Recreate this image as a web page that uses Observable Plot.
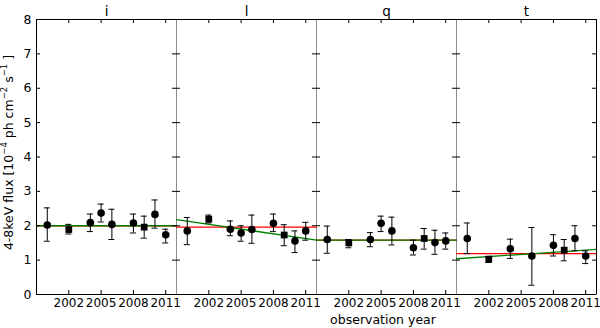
<!DOCTYPE html>
<html><head><meta charset="utf-8">
<script src="https://cdn.jsdelivr.net/npm/d3@7"></script>
<script src="https://cdn.jsdelivr.net/npm/@observablehq/plot@0.6"></script>
<style>body{margin:0;background:#fff} svg{font-family:"DejaVu Sans",sans-serif}</style>
</head><body><div id="chart"></div>
<script>
// Panels (sources) and observation years
const panels = ["i", "l", "q", "t"];
const years = [2000, 2002, 2004, 2005, 2006, 2008, 2009, 2010, 2011];
const instrument = ["circle", "square", "circle", "circle", "circle", "circle", "square", "circle", "circle"];
const xTicks = [2002, 2005, 2008, 2011];
const yTicks = [0, 1, 2, 3, 4, 5, 6, 7, 8];
const xDomain = [1999, 2012];
const yDomain = [0, 8];

// 4-8 keV flux per panel (null = no observation)
const fluxI = [2.02, 1.89, 2.09, 2.37, 2.04, 2.08, 1.96, 2.33, 1.74];
const hiI   = [2.52, 2.04, 2.34, 2.63, 2.48, 2.34, 2.28, 2.75, 1.90];
const loI   = [1.55, 1.76, 1.83, 2.11, 1.60, 1.79, 1.64, 1.93, 1.50];

const fluxL = [1.85, 2.19, 1.90, 1.79, 1.89, 2.07, 1.73, 1.56, 1.85];
const hiL   = [2.24, 2.31, 2.14, 2.00, 2.31, 2.34, 2.03, 1.85, 2.10];
const loL   = [1.45, 2.08, 1.71, 1.55, 1.49, 1.83, 1.42, 1.22, 1.58];

const fluxQ = [1.60, 1.50, 1.60, 2.07, 1.85, 1.36, 1.63, 1.51, 1.56];
const hiQ   = [1.99, 1.60, 1.80, 2.28, 2.25, 1.58, 1.92, 1.87, 1.79];
const loQ   = [1.20, 1.36, 1.39, 1.83, 1.44, 1.15, 1.32, 1.17, 1.32];

const fluxT = [1.63, 1.03, 1.33, null, 1.12, 1.43, 1.29, 1.63, 1.12];
const hiT   = [2.08, 1.10, 1.61, null, 1.95, 1.74, 1.60, 2.00, 1.27];
const loT   = [1.19, 0.93, 1.05, null, 0.27, 1.12, 0.98, 1.27, 0.90];

// Constant (mean) level and linear-fit endpoints per panel
const meanLevel = [2.00, 1.96, 1.58, 1.19];
const fitStart  = [2.00, 2.18, 1.58, 1.04];
const fitEnd    = [2.00, 1.58, 1.58, 1.31];

const flux = [fluxI, fluxL, fluxQ, fluxT];
const hi = [hiI, hiL, hiQ, hiT];
const lo = [loI, loL, loQ, loT];

const rows = [];
panels.forEach((p, pi) => years.forEach((yr, k) => {
  if (flux[pi][k] == null) return;
  rows.push({panel: p, year: yr, flux: flux[pi][k], hi: hi[pi][k], lo: lo[pi][k], inst: instrument[k]});
}));
const meanRows = [], fitRows = [];
panels.forEach((p, pi) => {
  meanRows.push({panel: p, x: xDomain[0], y: meanLevel[pi]}, {panel: p, x: xDomain[1], y: meanLevel[pi]});
  fitRows.push({panel: p, x: xDomain[0], y: fitStart[pi]}, {panel: p, x: xDomain[1], y: fitEnd[pi]});
});
const outerSides = [{panel: panels[0], x: xDomain[0]}, {panel: panels[panels.length - 1], x: xDomain[1]}];

const W = 600, H = 328, mL = 36, mR = 4, mT = 19, mB = 34;
const facetW = (W - mL - mR) / panels.length, facetH = H - mT - mB, tk = 4;

const chart = Plot.plot({
  width: W, height: H, marginLeft: mL, marginRight: mR, marginTop: mT, marginBottom: mB,
  style: {fontFamily: "DejaVu Sans, sans-serif", fontSize: "12px", background: "#fff", color: "#000"},
  fx: {domain: panels, padding: 0, label: null, axis: null},
  x: {domain: xDomain, axis: null},
  y: {domain: yDomain, axis: null},
  symbol: {domain: ["circle", "square"], range: ["circle", "square"]},
  marks: [
    Plot.frame({stroke: "#8c8c8c"}),
    Plot.line(meanRows, {fx: "panel", x: "x", y: "y", stroke: "#ff0000", strokeWidth: 1.3}),
    Plot.line(fitRows, {fx: "panel", x: "x", y: "y", stroke: "#008000", strokeWidth: 1.3}),
    Plot.ruleX(rows, {fx: "panel", x: "year", y1: "lo", y2: "hi", stroke: "#000", strokeWidth: 1}),
    Plot.ruleY(rows, {fx: "panel", y: "hi", x1: "year", x2: "year", insetLeft: -3, insetRight: -3, stroke: "#000"}),
    Plot.ruleY(rows, {fx: "panel", y: "lo", x1: "year", x2: "year", insetLeft: -3, insetRight: -3, stroke: "#000"}),
    Plot.dot(rows, {fx: "panel", x: "year", y: "flux", symbol: "inst", r: 3.8, fill: "#000", stroke: "none"}),
    // inward ticks
    Plot.ruleX(xTicks, {x: d => d, insetBottom: facetH - tk, stroke: "#000"}),
    Plot.ruleX(xTicks, {x: d => d, insetTop: facetH - tk, stroke: "#000"}),
    Plot.ruleY(yTicks, {y: d => d, insetRight: facetW - tk, stroke: "#000"}),
    Plot.ruleY(yTicks, {y: d => d, insetLeft: facetW - tk, stroke: "#000"}),
    // black outer frame
    Plot.ruleY(yDomain, {y: d => d, stroke: "#000"}),
    Plot.ruleX(outerSides, {fx: "panel", x: "x", stroke: "#000"}),
    // axes
    Plot.axisX(xTicks, {anchor: "bottom", tickSize: 0, tickPadding: 4, tickFormat: d => String(d), label: null, fontSize: 12, fill: "#000"}),
    Plot.axisY(yTicks, {anchor: "left", tickSize: 0, tickPadding: 5, label: null, fontSize: 12.5, fill: "#000"}),
    Plot.axisFx({anchor: "top", tickSize: 0, tickPadding: 4, label: null, fontSize: 13.5, fill: "#000"})
  ]
});
document.getElementById("chart").appendChild(chart);

const svg = d3.select(chart);
const yl = svg.append("text")
  .attr("transform", `translate(9,${mT + facetH / 2 - 4}) rotate(-90)`)
  .attr("text-anchor", "middle").attr("dominant-baseline", "middle")
  .attr("font-size", 12.5).attr("fill", "#000");
yl.append("tspan").text("4-8keV flux [10");
yl.append("tspan").attr("baseline-shift", "super").attr("font-size", 8.5).text("\u22124");
yl.append("tspan").text(" ph cm");
yl.append("tspan").attr("baseline-shift", "super").attr("font-size", 8.5).text("\u22122");
yl.append("tspan").text(" s");
yl.append("tspan").attr("baseline-shift", "super").attr("font-size", 8.5).text("\u22121");
yl.append("tspan").text(" ]");

svg.append("text")
  .attr("x", 383).attr("y", H - 4)
  .attr("text-anchor", "middle").attr("font-size", 12.5).attr("fill", "#000")
  .text("observation year");
</script>
</body></html>
